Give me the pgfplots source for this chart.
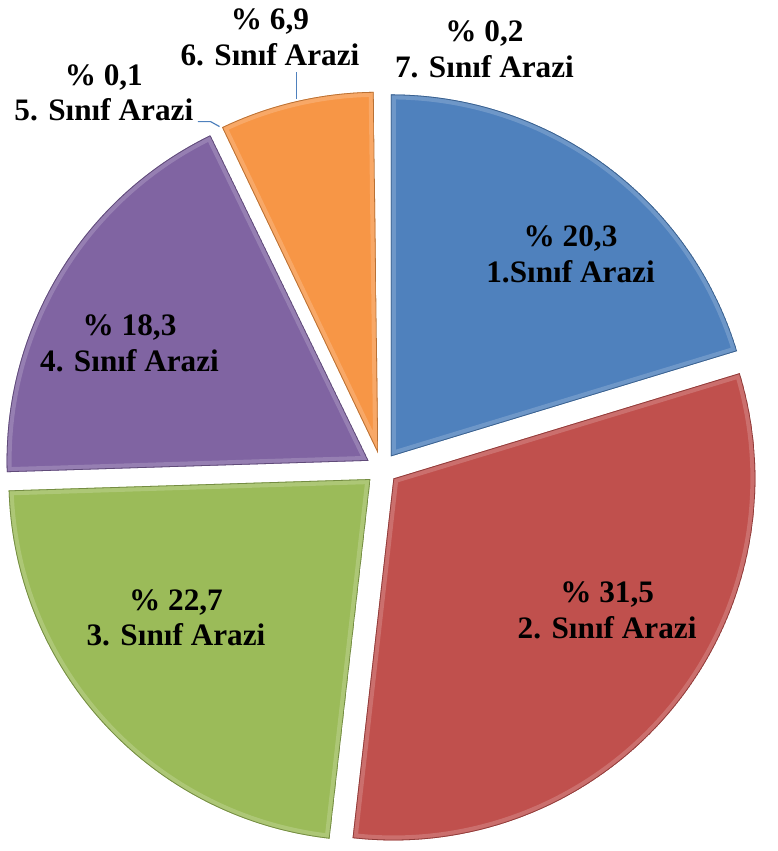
\documentclass[border=0pt]{standalone}
\usepackage{pgfplots}
\usepackage{pgfplotstable}
\pgfplotsset{compat=1.18}
\usepackage{fontspec}
\setmainfont{Liberation Serif}

\definecolor{cblue}{HTML}{4F81BD}
\definecolor{cred}{HTML}{C0504D}
\definecolor{cgreen}{HTML}{9BBB59}
\definecolor{cpurple}{HTML}{8064A2}
\definecolor{corange}{HTML}{F79646}

% slice shares (percent), clockwise from 12 o'clock
% the two tiny slices are lost in the gaps of the original, so white
\pgfplotstableread{
val  col
20.3 cblue
31.5 cred
22.7 cgreen
18.3 cpurple
0.1  white
6.9  corange
0.2  white
}\piedata

\begin{document}
\begin{tikzpicture}
\begin{axis}[
  x=0.5pt, y=0.5pt,
  xmin=0, xmax=757, ymin=0, ymax=851,
  hide axis, clip=false,
]
\path (axis cs:0,0) rectangle (axis cs:757,851);
\gdef\piecum{0}
\pgfplotsforeachungrouped \i in {0,...,6}{
  \pgfplotstablegetelem{\i}{val}\of\piedata \pgfmathsetmacro\pieV{\pgfplotsretval}
  \pgfplotstablegetelem{\i}{col}\of\piedata \edef\pieC{\pgfplotsretval}
  \pgfmathsetmacro\pieA{90-3.6*\piecum}
  \pgfmathsetmacro\pieB{\pieA-3.6*\pieV}
  \pgfmathsetmacro\pieM{(\pieA+\pieB)/2}
  \edef\pieslice{(axis cs:386,377) ++(\pieM:7.75pt) -- ++(\pieA:183pt)
      arc[start angle=\pieA, end angle=\pieB, radius=183pt] -- cycle}
  \edef\piedraw{%
    \noexpand\begin{scope}
    \noexpand\clip \pieslice;
    \noexpand\fill[fill=\pieC] \pieslice;
    \noexpand\draw[draw=white, opacity=0.18, line width=5pt] \pieslice;
    \noexpand\draw[draw=\pieC!75!black, line width=0.8pt] \pieslice;
    \noexpand\end{scope}}
  \ifdim\pieV pt>1pt \piedraw\fi
  \pgfmathsetmacro\pieN{\piecum+\pieV}\xdef\piecum{\pieN}
}
\draw[cblue, line width=0.6pt] (axis cs:200,728) -- (axis cs:213,728) -- (axis cs:222,723);
\draw[cblue, line width=0.6pt] (axis cs:300,778) -- (axis cs:300,751);
\tikzset{lbl/.style={align=center, font=\fontsize{15.8}{18}\selectfont\bfseries, inner sep=0pt}}
\node[lbl] at (axis cs:577,594) {\% 20,3\\1.Sınıf Arazi};
\node[lbl] at (axis cs:614,234) {\% 31,5\\2. Sınıf Arazi};
\node[lbl] at (axis cs:178,226) {\% 22,7\\3. Sınıf Arazi};
\node[lbl] at (axis cs:131,504) {\% 18,3\\4. Sınıf Arazi};
\node[lbl] at (axis cs:105,757) {\% 0,1\\5. Sınıf Arazi};
\node[lbl] at (axis cs:273,813) {\% 6,9\\6. Sınıf Arazi};
\node[lbl] at (axis cs:490,801) {\% 0,2\\7. Sınıf Arazi};
\end{axis}
\end{tikzpicture}
\end{document}
